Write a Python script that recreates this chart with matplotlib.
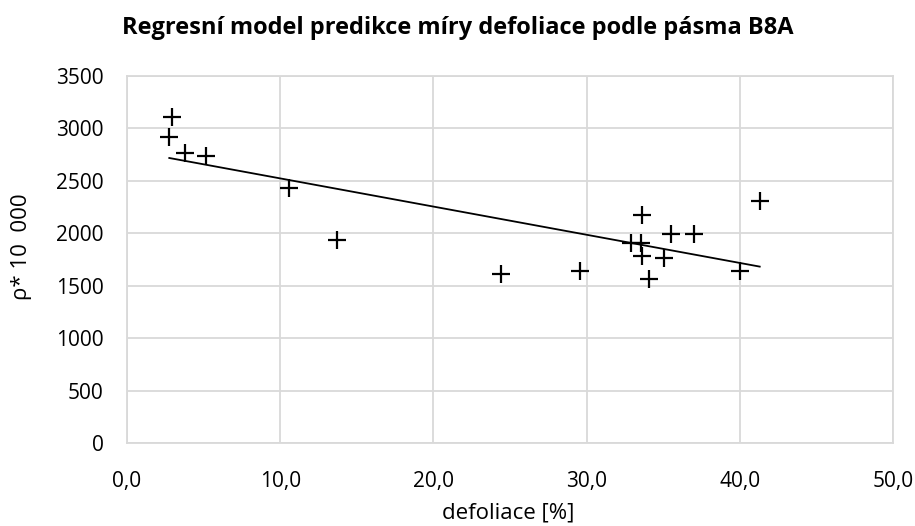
import numpy as np
import matplotlib
matplotlib.use('Agg')
import matplotlib.pyplot as plt

plt.rcParams['font.family'] = ['Open Sans', 'DejaVu Sans']

# defoliace [%] vs. reflectance * 10 000 (band B8A)
defoliace = [2.96, 2.76, 3.79, 5.16, 10.57, 13.7, 24.43, 29.57, 33.6, 32.9,
             33.55, 33.64, 34.05, 35.05, 35.5, 37.03, 40.0, 41.3]
rho = [3105, 2920, 2762, 2736, 2434, 1935, 1611, 1640, 2174, 1910,
       1904, 1783, 1563, 1766, 1995, 1990, 1640, 2310]

xticks = [0, 10, 20, 30, 40, 50]
yticks = [0, 500, 1000, 1500, 2000, 2500, 3000, 3500]

W, H = 915, 526
fig = plt.figure(figsize=(W/100, H/100), dpi=100)
ax = fig.add_axes([127/W, 83/H, 766/W, 367/H])

ax.plot(defoliace, rho, linestyle='none', marker='+', color='black',
        markersize=13, markeredgewidth=1.6, zorder=3)

# linear trend line over the data range
k, q = np.polyfit(defoliace, rho, 1)
xs = np.array([min(defoliace), max(defoliace)])
ax.plot(xs, k*xs + q, color='black', linewidth=1.3, zorder=2)

ax.set_xlim(0, 50)
ax.set_ylim(0, 3500)
ax.set_xticks(xticks)
ax.set_xticklabels([('%.1f' % t).replace('.', ',') for t in xticks])
ax.set_yticks(yticks)
ax.grid(True, color='#d9d9d9', linewidth=1.3)
ax.set_axisbelow(True)
for s in ax.spines.values():
    s.set_color('#d9d9d9')
    s.set_linewidth(1.3)
ax.tick_params(length=0, labelsize=15, colors='black')
ax.tick_params(axis='y', pad=17)
ax.tick_params(axis='x', pad=20)

fig.text(508/W, 1 - 519/H, 'defoliace [%]', fontsize=16,
         ha='center', va='baseline')
fig.text(22/W, 1 - 247/H, 'ρ* 10  000', fontsize=16, rotation=90,
         ha='center', va='center')
fig.text(0.5, 1 - 34/H, 'Regresní model predikce míry defoliace podle pásma B8A',
         fontsize=17, fontweight='bold', ha='center', va='baseline')

fig.savefig('out.png', dpi=100)
